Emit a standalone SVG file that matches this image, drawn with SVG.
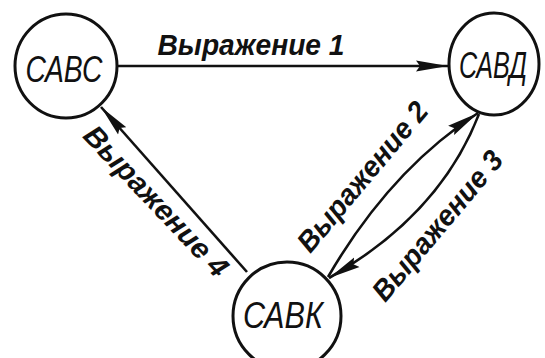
<svg xmlns="http://www.w3.org/2000/svg" width="545" height="358" viewBox="0 0 545 358">
<style>
.node{fill:none;stroke:#111;stroke-width:3}
.nl{font-family:"Liberation Sans",Arial,sans-serif;font-style:italic;font-size:28px;fill:#111;text-anchor:middle}
.edge{fill:none;stroke:#111;stroke-width:2.6}
.el{font-family:"Liberation Sans",Arial,sans-serif;font-style:italic;font-weight:bold;font-size:29px;fill:#111;text-anchor:middle}
</style>
<defs>
<marker id="arr" markerUnits="userSpaceOnUse" markerWidth="34" markerHeight="12" refX="32" refY="6" orient="auto">
<path d="M0,0.5 L32,6 L0,11.5 L4,6 Z" fill="#111"/>
</marker>
</defs>
<rect width="545" height="358" fill="#fff"/>
<g id="connectors">
<path class="edge" d="M118,66 L448,66" marker-end="url(#arr)"/>
<path class="edge" d="M247,272 L101,107" marker-end="url(#arr)"/>
<path class="edge" d="M328,277 Q390,170 478,113" marker-end="url(#arr)"/>
<path class="edge" d="M479,114 Q440,215 329,278" marker-end="url(#arr)"/>
<text class="el" x="251" y="55" textLength="187" lengthAdjust="spacingAndGlyphs">Выражение 1</text>
<text class="el" x="370" y="183" textLength="186" lengthAdjust="spacingAndGlyphs" transform="rotate(-50 370 183)">Выражение 2</text>
<text class="el" x="445" y="232" textLength="186" lengthAdjust="spacingAndGlyphs" transform="rotate(-50 445 232)">Выражение 3</text>
<text class="el" x="149" y="208" textLength="196" lengthAdjust="spacingAndGlyphs" transform="rotate(46.6 149 208)">Выражение 4</text>
</g>
<g id="CABC">
<ellipse class="node" cx="66" cy="66" rx="51" ry="52"/>
<text class="nl" transform="translate(64 82) scale(1 1.35)" x="0" y="0" textLength="77" lengthAdjust="spacingAndGlyphs">САВС</text>
</g>
<g id="CABD">
<ellipse class="node" cx="494" cy="64" rx="45" ry="51"/>
<text class="nl" transform="translate(493 78) scale(1 1.3)" x="0" y="0" font-size="25" textLength="68" lengthAdjust="spacingAndGlyphs">САВД</text>
</g>
<g id="CABK">
<circle class="node" cx="287" cy="316" r="54"/>
<text class="nl" transform="translate(283 328) scale(1 1.3)" x="0" y="0" textLength="80" lengthAdjust="spacingAndGlyphs">САВК</text>
</g>
</svg>
